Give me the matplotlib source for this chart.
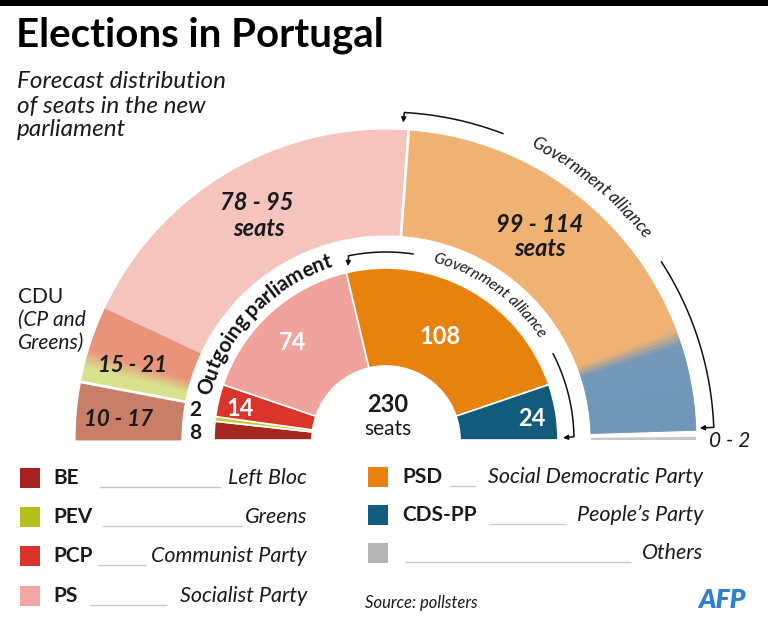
import numpy as np
import matplotlib
matplotlib.use('Agg')
import matplotlib.pyplot as plt
from matplotlib.patches import Wedge, Rectangle
from matplotlib.colors import to_rgb
from matplotlib.font_manager import FontProperties

plt.rcParams['font.family'] = ['Lato', 'DejaVu Sans']

# 数据：上届议会席位
outgoing_parties = ['BE', 'PEV', 'PCP', 'PS', 'PSD', 'CDS-PP']
outgoing_seats = [8, 2, 14, 74, 108, 24]
outgoing_colors = ['#a5271f', '#c9cd2a', '#d9352a', '#f0a39d', '#e8820e', '#135b7d']

# 数据：预测席位区间
forecast_groups = ['BE', 'CDU', 'PS', 'PSD+CDS-PP', 'Others']
forecast_low = [10, 15, 78, 99, 0]
forecast_high = [17, 21, 95, 114, 2]

# 图例
legend_left = [('BE', 'Left Bloc', '#a8231f'), ('PEV', 'Greens', '#b5c01e'),
               ('PCP', 'Communist Party', '#d9332a'), ('PS', 'Socialist Party', '#f2a7a2')]
legend_right = [('PSD', 'Social Democratic Party', '#e8820e'),
                ('CDS-PP', 'People\u2019s Party', '#135b7d'), ('', 'Others', '#b4b4b4')]

W, H = 768, 639
CX, CY = 386, H - 440

fig = plt.figure(figsize=(W / 100, H / 100), dpi=100)
ax = fig.add_axes([0, 0, 1, 1])
ax.set_xlim(0, W)
ax.set_ylim(0, H)
ax.axis('off')
renderer = fig.canvas.get_renderer()


def Y(y):
    return H - y


def pol(ang, r):
    a = np.radians(ang)
    return CX + r * np.cos(a), CY + r * np.sin(a)


def grad_wedge(a_hi, a_lo, r_in, r_out, stops, n=80):
    # 沿角度方向渐变，stops 为 (比例, 颜色)，比例从 a_hi 端起算
    ts = [s[0] for s in stops]
    cs = np.array([to_rgb(s[1]) for s in stops])
    edges = np.linspace(a_hi, a_lo, n + 1)
    for i in range(n):
        t = (i + 0.5) / n
        col = [np.interp(t, ts, cs[:, k]) for k in range(3)]
        ax.add_patch(Wedge((CX, CY), r_out, edges[i + 1], edges[i], width=r_out - r_in,
                           facecolor=col, edgecolor=col, lw=0.6))


def curved_text(text, r, mid_ang, size, weight='normal', style='normal', color='#1a1a1a'):
    prop = FontProperties(family=['Lato', 'DejaVu Sans'], size=size, weight=weight, style=style)
    widths = [0.0]
    for i in range(1, len(text) + 1):
        w, _, _ = renderer.get_text_width_height_descent(text[:i], prop, ismath=False)
        widths.append(w)
    total = widths[-1]
    a0 = mid_ang + np.degrees(total / 2 / r)
    for i, ch in enumerate(text):
        c = (widths[i] + widths[i + 1]) / 2
        ang = a0 - np.degrees(c / r)
        x, y = pol(ang, r)
        ax.text(x, y, ch, fontproperties=prop, color=color, rotation=ang - 90,
                rotation_mode='anchor', ha='center', va='center')


# ---- 外圈：预测 ----
mids = [(lo + hi) / 2 for lo, hi in zip(forecast_low, forecast_high)]
total_mid = sum(mids)
bounds = [180.0]
for m in mids:
    bounds.append(bounds[-1] - m / total_mid * 180.0)

R_IN, R_OUT = 205, 310
grad_wedge(bounds[0], bounds[1], R_IN, R_OUT, [(0, '#c97e68'), (1, '#c97e68')], n=4)
grad_wedge(bounds[1], bounds[2], R_IN, R_OUT,
           [(0, '#d9e08e'), (0.2, '#d9e08e'), (0.45, '#e9937a'), (1, '#e9937a')])
grad_wedge(bounds[2], bounds[3], R_IN, R_OUT, [(0, '#f5c4bd'), (1, '#f5c4bd')], n=4)
grad_wedge(bounds[3], bounds[4] + 1.0, R_IN, R_OUT,
           [(0, '#f0b272'), (0.775, '#f0b272'), (0.81, '#7398b9'), (1, '#7096b8')], n=120)
ax.add_patch(Wedge((CX, CY), R_OUT, 0, bounds[4] - 0.2, width=R_OUT - R_IN,
                   facecolor='#c8c8c8', edgecolor='none'))
# 白色分隔线
for b in [bounds[1], bounds[3]]:
    p1, p2 = pol(b, R_IN - 1), pol(b, R_OUT + 1)
    ax.plot([p1[0], p2[0]], [p1[1], p2[1]], color='white', lw=2)

# ---- 内圈：上届议会 ----
r_in2, r_out2 = 74, 172
start = 180.0
for seats, col in zip(outgoing_seats, outgoing_colors):
    span = seats / sum(outgoing_seats) * 180.0
    ax.add_patch(Wedge((CX, CY), r_out2, start - span, start, width=r_out2 - r_in2,
                       facecolor=col, edgecolor='white', lw=1.2))
    start -= span

# ---- 弧形注释 ----
curved_text('Outgoing parliament', 187, 136.5, 15, weight='bold', color='#111111')
curved_text('Government alliance', 188, 54.5, 11.5, style='italic')
curved_text('Government alliance', 332, 51, 12.5, style='italic')


def arc(r, a1, a2, lw=1.1):
    t = np.linspace(a1, a2, 60)
    xs, ys = pol(t, r)
    ax.plot(xs, ys, color='#111111', lw=lw, solid_capstyle='butt')


def arrow(p_from, p_to):
    ax.annotate('', xy=p_to, xytext=p_from,
                arrowprops=dict(arrowstyle='-|>', color='#111111', lw=1.1,
                                mutation_scale=7, shrinkA=0, shrinkB=0))


arc(188, 101.5, 81.5)
arc(188, 27.5, 1.0)
arc(328, 86.8, 69)
arc(328, 33, 2.2)
arrow(pol(101.5, 188), pol(102.3, 178))
arrow(pol(1.0, 188), pol(0.7, 177))
arrow(pol(86.8, 328), pol(86.9, 318))
arrow(pol(2.2, 328), pol(2.2, 314))

# ---- 数值标签 ----
dark = '#1a1a1a'
ax.text(257, Y(202), '78 - 95', fontsize=17, weight='bold', style='italic', color=dark, ha='center', va='center')
ax.text(259, Y(229), 'seats', fontsize=17, weight='bold', style='italic', color=dark, ha='center', va='center')
ax.text(540, Y(224), '99 - 114', fontsize=17, weight='bold', style='italic', color=dark, ha='center', va='center')
ax.text(540, Y(249), 'seats', fontsize=17, weight='bold', style='italic', color=dark, ha='center', va='center')
ax.text(133, Y(365), '15 - 21', fontsize=16, weight='bold', style='italic', color=dark, ha='center', va='center')
ax.text(118, Y(419), '10 - 17', fontsize=16, weight='bold', style='italic', color=dark, ha='center', va='center')
ax.text(195, Y(410), '2', fontsize=15, weight='bold', color=dark, ha='center', va='center')
ax.text(195, Y(433), '8', fontsize=15, weight='bold', color=dark, ha='center', va='center')
for txt, x, y in [('14', 240, 409), ('74', 293, 342), ('108', 440, 336), ('24', 532, 418)]:
    ax.text(x, Y(y), txt, fontsize=17, weight='bold', color='white', ha='center', va='center')
ax.text(388, Y(404), '230', fontsize=17, weight='bold', color=dark, ha='center', va='center')
ax.text(388, Y(429), 'seats', fontsize=15, color=dark, ha='center', va='center')
ax.text(730, Y(441), '0 - 2', fontsize=15, style='italic', color=dark, ha='center', va='center')
ax.text(18, Y(297), 'CDU', fontsize=15, color=dark, ha='left', va='center')
ax.text(18, Y(320), '(CP and', fontsize=15, style='italic', color=dark, ha='left', va='center')
ax.text(18, Y(343), 'Greens)', fontsize=15, style='italic', color=dark, ha='left', va='center')

# ---- 标题 ----
ax.add_patch(Rectangle((0, Y(6)), W, 6, facecolor='black', edgecolor='none'))
ax.text(16, Y(35), 'Elections in Portugal', fontsize=29, weight='bold', color='black', ha='left', va='center')
for i, line in enumerate(['Forecast distribution', 'of seats in the new', 'parliament']):
    ax.text(17, Y(82 + 24 * i), line, fontsize=17.5, style='italic', color=dark, ha='left', va='center')

# ---- 图例 ----
left_rows = [478, 517, 556, 596]
left_lines = [(100, 220), (103, 242), (98, 146), (90, 166)]
for (abbr, desc, col), y, (l0, l1) in zip(legend_left, left_rows, left_lines):
    ax.add_patch(Rectangle((20, Y(y) - 10), 20, 20, facecolor=col, edgecolor='none'))
    ax.text(53, Y(y), abbr, fontsize=15, weight='bold', color=dark, ha='left', va='center')
    ax.plot([l0, l1], [Y(y + 9)] * 2, color='#c8c8c8', lw=1)
    ax.text(307, Y(y), desc, fontsize=15.5, style='italic', color=dark, ha='right', va='center')

right_rows = [477, 515, 553]
right_lines = [(450, 475), (490, 565), (405, 630)]
for (abbr, desc, col), y, (l0, l1) in zip(legend_right, right_rows, right_lines):
    ax.add_patch(Rectangle((368, Y(y) - 10), 20, 20, facecolor=col, edgecolor='none'))
    ax.text(402, Y(y), abbr, fontsize=15, weight='bold', color=dark, ha='left', va='center')
    ax.plot([l0, l1], [Y(y + 9)] * 2, color='#c8c8c8', lw=1)
    ax.text(703, Y(y), desc, fontsize=15.5, style='italic', color=dark, ha='right', va='center')

ax.text(365, Y(603), 'Source: pollsters', fontsize=12, style='italic', color=dark, ha='left', va='center')
ax.text(722, Y(600), 'AFP', fontsize=19, weight='heavy', style='italic', color='#2f7fd0', ha='center', va='center')

fig.savefig('out.png', dpi=100)
